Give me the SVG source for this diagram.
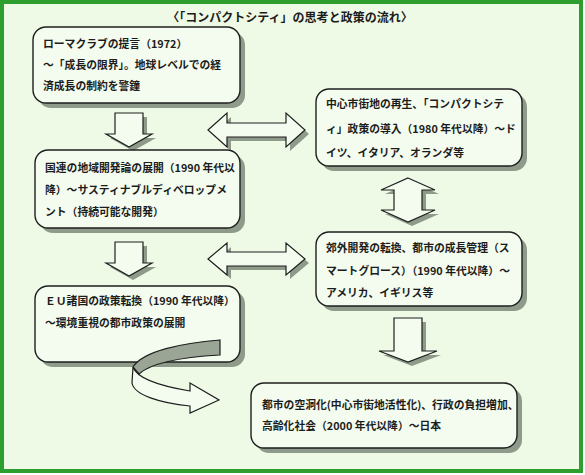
<svg xmlns="http://www.w3.org/2000/svg" width="585" height="475" viewBox="0 0 585 475">
<defs>
<style>
.t{font-family:"Noto Sans CJK JP","Noto Sans CJK SC",sans-serif;font-weight:bold;font-size:10.8px;fill:#1c1c1c}
.title{font-family:"Noto Sans CJK JP","Noto Sans CJK SC",sans-serif;font-weight:bold;font-size:12px;fill:#1c1c1c}
.box{fill:#f4fcef;stroke:#1e1e1e;stroke-width:1.4}
.sh{fill:#8e9b8a}
.ar{fill:#f4fcef;stroke:#1e1e1e;stroke-width:1.2;stroke-linejoin:miter}
</style>
</defs>
<rect x="0" y="0" width="585" height="475" fill="#ffffff"/>
<rect x="2" y="2" width="579" height="469" fill="#eefae6" stroke="#2e9e2e" stroke-width="4"/>
<text class="title" x="290" y="22" text-anchor="middle">〈「コンパクトシティ」の思考と政策の流れ〉</text>

<g id="connectors">
  <g id="down1">
    <polygon class="sh" transform="translate(4,4)" points="115,113 143,113 143,134 152,134 129,147 106,134 115,134"/>
    <polygon class="ar" points="115,113 143,113 143,134 152,134 129,147 106,134 115,134"/>
  </g>
  <g id="down2">
    <polygon class="sh" transform="translate(4,4)" points="115,242 143,242 143,263 152,263 129,276 106,263 115,263"/>
    <polygon class="ar" points="115,242 143,242 143,263 152,263 129,276 106,263 115,263"/>
  </g>
  <g id="dbl1">
    <polygon class="sh" transform="translate(4,4)" points="208,130 227,113 227,123 286,123 286,113 305,130 286,147 286,137 227,137 227,147"/>
    <polygon class="ar" points="208,130 227,113 227,123 286,123 286,113 305,130 286,147 286,137 227,137 227,147"/>
  </g>
  <g id="dbl2">
    <polygon class="sh" transform="translate(4,4)" points="208,259 227,243 227,252 286,252 286,243 305,259 286,275 286,266 227,266 227,275"/>
    <polygon class="ar" points="208,259 227,243 227,252 286,252 286,243 305,259 286,275 286,266 227,266 227,275"/>
  </g>
  <g id="vdbl">
    <polygon class="sh" transform="translate(4,4)" points="408,178 435,190 422,190 422,210 435,210 408,222 381,210 394,210 394,190 381,190"/>
    <polygon class="ar" points="408,178 435,190 422,190 422,210 435,210 408,222 381,210 394,210 394,190 381,190"/>
  </g>
  <g id="down3">
    <polygon class="sh" transform="translate(4,4)" points="394,318 422,318 422,351 437,351 408,362 379,351 394,351"/>
    <polygon class="ar" points="394,318 422,318 422,351 437,351 408,362 379,351 394,351"/>
  </g>
</g>

<g id="box1">
  <rect class="sh" x="38" y="32" width="207" height="76" rx="13"/>
  <rect class="box" x="33" y="27" width="207" height="76" rx="13"/>
  <text class="t" x="43" y="48">ローマクラブの提言（1972）</text>
  <text class="t" x="43" y="69">～「成長の限界」。地球レベルでの経</text>
  <text class="t" x="43" y="90">済成長の制約を警鐘</text>
</g>
<g id="box2">
  <rect class="sh" x="321" y="94" width="206" height="77" rx="13"/>
  <rect class="box" x="316" y="89" width="206" height="77" rx="13"/>
  <text class="t" x="326" y="108">中心市街地の再生、「コンパクトシテ</text>
  <text class="t" x="326" y="133">ィ」政策の導入（1980 年代以降）～ド</text>
  <text class="t" x="326" y="157">イツ、イタリア、オランダ等</text>
</g>
<g id="box3">
  <rect class="sh" x="40" y="155" width="205" height="78" rx="13"/>
  <rect class="box" x="35" y="150" width="205" height="78" rx="13"/>
  <text class="t" x="45" y="172">国連の地域開発論の展開（1990 年代以</text>
  <text class="t" x="45" y="194">降）～サスティナブルディベロップメ</text>
  <text class="t" x="45" y="216">ント（持続可能な開発）</text>
</g>
<g id="box4">
  <rect class="sh" x="321" y="237" width="206" height="74" rx="13"/>
  <rect class="box" x="316" y="232" width="206" height="74" rx="13"/>
  <text class="t" x="326" y="252">郊外開発の転換、都市の成長管理（ス</text>
  <text class="t" x="326" y="275">マートグロース）（1990 年代以降）～</text>
  <text class="t" x="326" y="297">アメリカ、イギリス等</text>
</g>
<g id="box5">
  <rect class="sh" x="40" y="291" width="205" height="76" rx="13"/>
  <rect class="box" x="35" y="286" width="205" height="76" rx="13"/>
  <text class="t" x="45" y="305">ＥＵ諸国の政策転換（1990 年代以降）</text>
  <text class="t" x="45" y="327">～環境重視の都市政策の展開</text>
</g>
<g id="box6">
  <rect class="sh" x="256" y="388" width="266" height="65" rx="13"/>
  <rect class="box" x="251" y="383" width="266" height="65" rx="13"/>
  <text class="t" x="262" y="409">都市の空洞化(中心市街地活性化)、行政の負担増加、</text>
  <text class="t" x="262" y="430">高齢化社会（2000 年代以降）～日本</text>
</g>

<g id="curved-arrow">
  <path fill="#9aa595" stroke="#1e1e1e" stroke-width="1.2" d="M220,340 C182,343 143,351 133,367 L139,374 C152,362 185,357 220,355 Z"/>
  <path class="ar" d="M133,367 C137,379 160,386 190,391 L190,383 L219,400 L190,413 L190,406 C160,403 134,395 132,383 Z"/>
</g>
</svg>
